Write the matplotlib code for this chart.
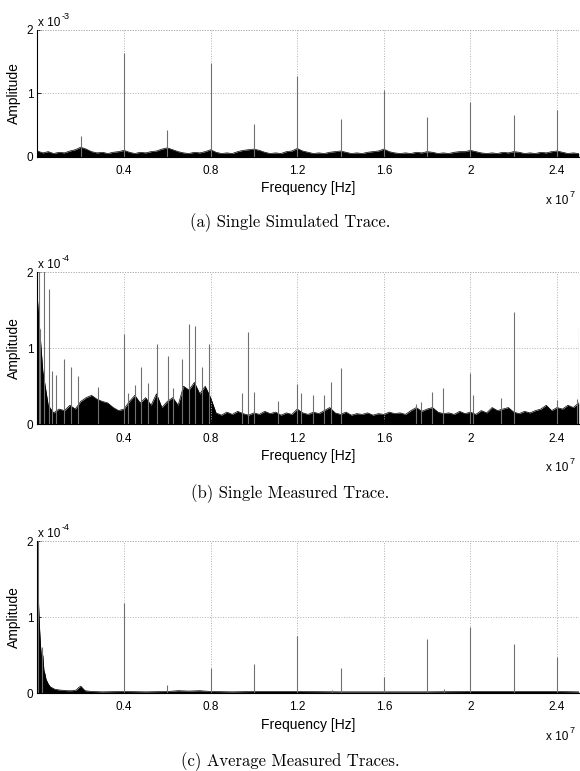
import numpy as np
import matplotlib.pyplot as plt

plt.rcParams['font.family'] = ['Liberation Sans', 'DejaVu Sans']

# frequency axis in units of 1e7 Hz, amplitudes in units of the panel multiplier

# (a) single simulated trace, amplitude x 1e-3
sim_floor_f = np.linspace(0, 2.5, 101)
sim_floor = [0.09, 0.06, 0.08, 0.05, 0.07, 0.06, 0.09, 0.11, 0.15, 0.12,
             0.08, 0.06, 0.07, 0.05, 0.07, 0.08, 0.10, 0.07, 0.05, 0.07,
             0.06, 0.08, 0.09, 0.12, 0.14, 0.11, 0.08, 0.06, 0.05, 0.07,
             0.06, 0.08, 0.11, 0.07, 0.05, 0.06, 0.05, 0.08, 0.10, 0.11,
             0.12, 0.10, 0.07, 0.05, 0.06, 0.05, 0.08, 0.09, 0.13, 0.09,
             0.07, 0.05, 0.06, 0.05, 0.07, 0.08, 0.09, 0.07, 0.05, 0.06,
             0.05, 0.07, 0.08, 0.09, 0.12, 0.08, 0.06, 0.05, 0.06, 0.05,
             0.07, 0.06, 0.08, 0.07, 0.05, 0.06, 0.05, 0.07, 0.08, 0.08,
             0.10, 0.08, 0.06, 0.05, 0.06, 0.05, 0.07, 0.06, 0.08, 0.07,
             0.05, 0.06, 0.05, 0.07, 0.06, 0.08, 0.09, 0.07, 0.05, 0.06,
             0.05]
sim_spike_f = [0.2, 0.4, 0.6, 0.8, 1.0, 1.2, 1.4, 1.6, 1.8, 2.0, 2.2, 2.4]
sim_spike = [0.33, 1.64, 0.42, 1.48, 0.52, 1.28, 0.60, 1.06, 0.63, 0.86, 0.66, 0.73]

# (b) single measured trace, amplitude x 1e-4
meas_floor_f = np.linspace(0, 2.5, 101)
meas_floor = [1.65, 0.70, 0.25, 0.15, 0.20, 0.18, 0.25, 0.20, 0.30, 0.35,
              0.38, 0.33, 0.30, 0.28, 0.22, 0.18, 0.20, 0.30, 0.38, 0.28,
              0.35, 0.25, 0.40, 0.22, 0.30, 0.35, 0.25, 0.50, 0.45, 0.55,
              0.40, 0.50, 0.35, 0.15, 0.12, 0.16, 0.13, 0.17, 0.14, 0.12,
              0.15, 0.13, 0.17, 0.14, 0.16, 0.12, 0.15, 0.13, 0.20, 0.15,
              0.13, 0.16, 0.14, 0.18, 0.22, 0.15, 0.13, 0.16, 0.12, 0.14,
              0.13, 0.15, 0.12, 0.14, 0.13, 0.16, 0.14, 0.15, 0.13, 0.18,
              0.22, 0.17, 0.20, 0.22, 0.16, 0.14, 0.15, 0.13, 0.17, 0.14,
              0.16, 0.13, 0.18, 0.15, 0.22, 0.18, 0.20, 0.22, 0.16, 0.14,
              0.17, 0.15, 0.18, 0.20, 0.25, 0.18, 0.22, 0.20, 0.25, 0.22,
              0.28]
meas_spike_f = [0.007, 0.012, 0.030, 0.052, 0.069, 0.084, 0.124, 0.154, 0.189,
                0.278, 0.40, 0.42, 0.45, 0.48, 0.51, 0.551, 0.605, 0.628,
                0.668, 0.70, 0.728, 0.759, 0.791, 0.945, 0.971, 1.00, 1.11,
                1.20, 1.216, 1.274, 1.325, 1.355, 1.401, 1.747, 1.77, 1.824,
                1.875, 2.00, 2.013, 2.14, 2.20, 2.40, 2.49, 2.50]
meas_spike = [2.5, 1.25, 2.5, 1.78, 0.70, 0.65, 0.86, 0.75, 0.63,
              0.49, 1.19, 0.41, 0.52, 0.75, 0.54, 1.05, 0.90, 0.48,
              0.86, 1.32, 1.29, 0.75, 1.06, 0.41, 1.21, 0.42, 0.31,
              0.53, 0.41, 0.39, 0.39, 0.56, 0.74, 0.27, 0.29, 0.42,
              0.48, 0.68, 0.39, 0.35, 1.48, 0.32, 0.33, 1.25]

# (c) average of measured traces, amplitude x 1e-4
avg_floor_f = [0, 0.005, 0.01, 0.015, 0.02, 0.025, 0.03, 0.035, 0.04, 0.05,
               0.06, 0.08, 0.10, 0.12, 0.14, 0.16, 0.18, 0.19, 0.20, 0.21,
               0.22, 0.25, 0.3, 0.4, 0.5, 0.6, 0.65, 0.7, 0.75, 0.8,
               0.9, 1.0, 1.2, 1.4, 1.6, 1.8, 2.0, 2.2, 2.4, 2.5]
avg_floor = [1.40, 1.20, 0.85, 0.60, 0.45, 0.50, 0.30, 0.25, 0.18, 0.12,
             0.08, 0.05, 0.04, 0.035, 0.03, 0.03, 0.04, 0.07, 0.09, 0.06,
             0.03, 0.02, 0.015, 0.02, 0.015, 0.02, 0.03, 0.025, 0.03, 0.02,
             0.015, 0.02, 0.02, 0.015, 0.015, 0.015, 0.02, 0.02, 0.02, 0.015]
avg_spike_f = [0.004, 0.02, 0.40, 0.60, 0.80, 1.00, 1.20, 1.36, 1.40, 1.60,
               1.80, 1.88, 2.00, 2.20, 2.40]
avg_spike = [2.0, 0.6, 1.19, 0.11, 0.33, 0.38, 0.75, 0.04, 0.33, 0.21,
             0.71, 0.05, 0.87, 0.65, 0.48]

xticks = [0.4, 0.8, 1.2, 1.6, 2.0, 2.4]
xtick_labels = ['0.4', '0.8', '1.2', '1.6', '2', '2.4']
yticks = [0, 1, 2]

W, H = 580, 771
fig = plt.figure(figsize=(W / 100, H / 100), dpi=100)


def rect(left, top, right, bottom):
    return [left / W, 1 - bottom / H, (right - left) / W, (bottom - top) / H]


def multiplier(ax, xy, off, exp, ha, va):
    # "x 10" with a small raised exponent, like matlab's axis multiplier
    t = ax.annotate('x 10', xy=xy, xycoords='axes fraction', xytext=off,
                    textcoords='offset pixels', ha=ha, va=va, fontsize=8.5)
    ax.annotate(exp, xy=(1, 1), xycoords=t, xytext=(1, -4),
                textcoords='offset pixels', ha='left', va='bottom', fontsize=6.5)


def panel(box, ff, fa, sf, sa, exp, caption, cap_y):
    ax = fig.add_axes(box)
    ax.fill_between(ff, 0, fa, color='black', lw=0)
    ax.plot(ff, fa, color='black', lw=0.5)
    ax.vlines(sf, 0, sa, color='#707070', lw=0.8)
    ax.set_xlim(0, 2.5)
    ax.set_ylim(0, 2)
    ax.set_xticks(xticks)
    ax.set_xticklabels(xtick_labels)
    ax.set_yticks(yticks)
    ax.set_yticklabels([str(v) for v in yticks])
    ax.grid(True, linestyle=':', color='#b0b0b0', lw=0.7)
    ax.axhline(2, color='#b0b0b0', ls=':', lw=0.7)
    ax.spines['top'].set_visible(False)
    ax.spines['right'].set_visible(False)
    ax.tick_params(direction='in', length=3, width=0.6, labelsize=8.5, pad=3)
    ax.tick_params(axis='x', pad=6)
    ax.set_xlabel('Frequency [Hz]', fontsize=10, labelpad=3)
    ax.set_ylabel('Amplitude', fontsize=10, labelpad=4)
    multiplier(ax, (0, 1), (1, 1), exp, 'left', 'bottom')
    multiplier(ax, (1, 0), (-10, -38), '7', 'right', 'top')
    fig.text(0.5, 1 - cap_y / H, caption, ha='center', va='baseline',
             family='cmr10', fontsize=12)
    return ax


panel(rect(37.4, 30, 578.7, 156.7), sim_floor_f, sim_floor, sim_spike_f, sim_spike,
      '-3', '(a) Single Simulated Trace.', 227)
panel(rect(37.4, 272, 578.7, 424.3), meas_floor_f, meas_floor, meas_spike_f, meas_spike,
      '-4', '(b) Single Measured Trace.', 498)
panel(rect(37.4, 541, 578.7, 693), avg_floor_f, avg_floor, avg_spike_f, avg_spike,
      '-4', '(c) Average Measured Traces.', 766)

fig.savefig('out.png', dpi=100)
